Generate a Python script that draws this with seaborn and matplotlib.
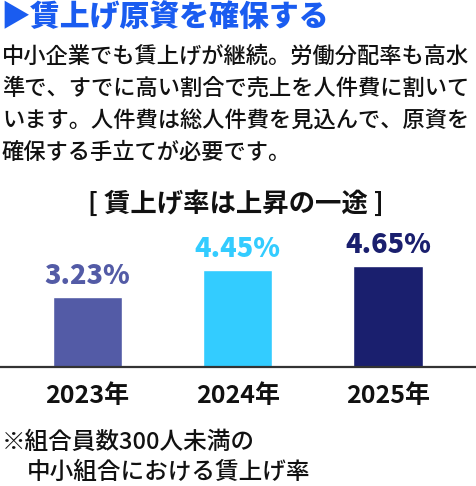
import pandas as pd
import seaborn as sns
import matplotlib.pyplot as plt

# data
years = ["2023年", "2024年", "2025年"]
rates = [3.23, 4.45, 4.65]
rate_labels = ["3.23%", "4.45%", "4.65%"]

title = "▶賃上げ原資を確保する"
body_lines = [
    "中小企業でも賃上げが継続。労働分配率も高水",
    "準で、すでに高い割合で売上を人件費に割いて",
    "います。人件費は総人件費を見込んで、原資を",
    "確保する手立てが必要です。",
]
chart_title = "[ 賃上げ率は上昇の一途 ]"
note_lines = ["※組合員数300人未満の", "中小組合における賃上げ率"]

bar_colors = ["#535ba6", "#33ccff", "#1a1f6e"]

sns.set_theme(style="white")
plt.rcParams["font.family"] = ["Noto Sans CJK JP", "DejaVu Sans"]

W, H = 476, 486
fig = plt.figure(figsize=(W / 100, H / 100), dpi=100)

def fy(px):
    # pixel from top -> figure fraction
    return 1 - px / H

# bar axes: baseline at y=367px, top at 230px
base_px, top_px = 367, 230
ax = fig.add_axes([0, fy(base_px), 1, (base_px - top_px) / H])
df = pd.DataFrame({"year": years, "rate": rates})
sns.barplot(data=df, x="year", y="rate", hue="year", palette=bar_colors,
            width=0.46, legend=False, ax=ax, saturation=1)
ax.set_xlim(-0.582, 2.586)
ax.set_ylim(0, (base_px - top_px) / 21.8)
for s in ["top", "right", "left"]:
    ax.spines[s].set_visible(False)
ax.spines["bottom"].set_color("#333333")
ax.spines["bottom"].set_linewidth(1.6)
ax.set_yticks([])
ax.set_xlabel("")
ax.set_ylabel("")
ax.tick_params(axis="x", length=0, pad=12)
ax.set_xticks(range(len(years)))
ax.set_xticklabels(years, fontsize=18, fontweight="bold", color="#111111")

for i, (v, lab) in enumerate(zip(rates, rate_labels)):
    ax.annotate(lab, (i, v), xytext=(0, 7), textcoords="offset pixels",
                ha="center", va="bottom", fontsize=19.5, fontweight="heavy",
                color=bar_colors[i])

# texts
fig.text(0.0, fy(17), title, fontsize=21.5, fontweight="heavy",
         color="#1a5cf0", va="center", ha="left")
for k, line in enumerate(body_lines):
    fig.text(2 / W, fy(56 + k * 32.2), line, fontsize=16,
             fontweight="medium", color="#111111", va="center", ha="left")
fig.text(236 / W, fy(204), chart_title, fontsize=19, fontweight="bold",
         color="#111111", va="center", ha="center")
fig.text(2 / W, fy(442), note_lines[0], fontsize=17, color="#111111",
         fontweight="medium", va="center", ha="left")
fig.text(27 / W, fy(472), note_lines[1], fontsize=17, color="#111111",
         fontweight="medium", va="center", ha="left")

fig.savefig("out.png", dpi=100, facecolor="white")
